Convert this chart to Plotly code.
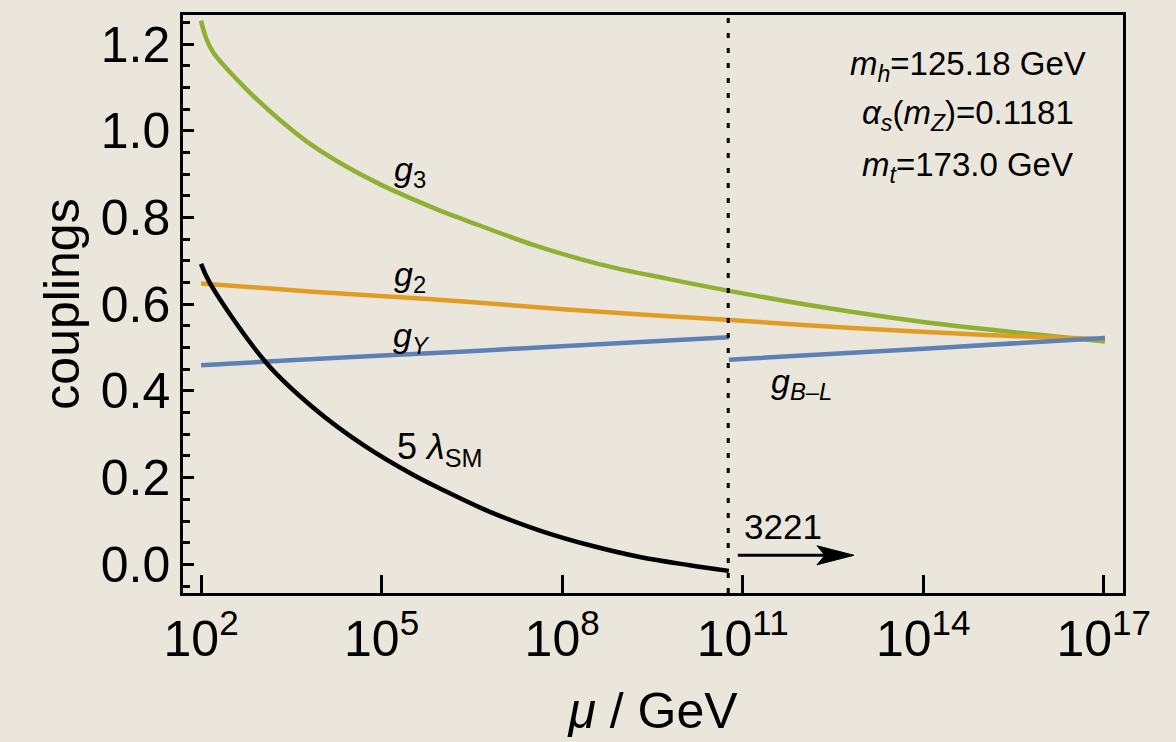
import plotly.graph_objects as go

# ---------------- data (log10(mu/GeV), coupling) ----------------
g3_logmu = [2.0, 2.08, 2.2, 2.76, 3.31, 3.86, 4.42, 4.97, 5.31, 5.97, 6.41, 7.52, 8.63, 9.74, 10.73, 12.28, 13.94, 15.6, 17.02]
g3_val = [1.254, 1.215, 1.181, 1.095, 1.025, 0.965, 0.917, 0.877, 0.855, 0.816, 0.793, 0.737, 0.692, 0.659, 0.632, 0.594, 0.560, 0.534, 0.514]

g2_logmu = [2.0, 3.86, 5.31, 6.3, 8.07, 10.73, 12.83, 15.05, 17.02]
g2_val = [0.648, 0.629, 0.616, 0.607, 0.588, 0.564, 0.545, 0.529, 0.520]

gY_logmu = [2.0, 3.64, 6.3, 7.3, 10.77]
gY_val = [0.459, 0.472, 0.4905, 0.498, 0.524]

gBL_logmu = [10.77, 13.94, 17.02]
gBL_val = [0.472, 0.497, 0.522]

lam_logmu = [2.0, 2.15, 3.09, 3.86, 4.7, 5.53, 5.97, 6.8, 7.63, 8.46, 9.29, 10.12, 10.77]
lam5_val = [0.693, 0.648, 0.464, 0.362, 0.275, 0.206, 0.175, 0.121, 0.078, 0.044, 0.017, -0.002, -0.015]

breaking_scale_log = 10.76
x_tick_exps = [2, 5, 8, 11, 14, 17]
y_tick_vals = [0.0, 0.2, 0.4, 0.6, 0.8, 1.0, 1.2]

# ---------------- styles ----------------
BG = "#EAE6DC"
C_BLUE = "#5E81B5"
C_ORANGE = "#E19C24"
C_GREEN = "#8FB032"
FONT = "Liberation Sans, Arial, sans-serif"

def pw(lst):
    return [10 ** v for v in lst]

fig = go.Figure()

series = [
    (g3_logmu, g3_val, C_GREEN),
    (g2_logmu, g2_val, C_ORANGE),
    (gY_logmu, gY_val, C_BLUE),
    (gBL_logmu, gBL_val, C_BLUE),
    (lam_logmu, lam5_val, "black"),
]
for xs, ys, col in series:
    fig.add_trace(go.Scatter(x=pw(xs), y=ys, mode="lines",
                             line=dict(color=col, width=4.5, shape="spline", smoothing=1.0)))

Y_MIN, Y_MAX = -0.066, 1.267
X_MIN, X_MAX = 1.70, 17.32

# dashed vertical line at the breaking scale
fig.add_shape(type="line", xref="x", yref="paper",
              x0=10 ** breaking_scale_log, x1=10 ** breaking_scale_log, y0=0, y1=1,
              line=dict(color="black", width=3, dash="5px,10px"), layer="above")

# arrow "3221"
arrow_y = 0.021
arrow_tail = 10.92
arrow_head = 12.85
fig.add_shape(type="line", xref="x", yref="y",
              x0=10 ** arrow_tail, x1=10 ** (arrow_head - 0.35), y0=arrow_y, y1=arrow_y,
              line=dict(color="black", width=3))
fig.add_shape(type="path", xref="x", yref="y", xsizemode="pixel", ysizemode="pixel",
              xanchor=10 ** arrow_head, yanchor=arrow_y,
              path="M0,0 L-37,9.5 L-29,0 L-37,-9.5 Z",
              fillcolor="black", line=dict(color="black", width=1))

annots = [
    dict(x=5.47, y=0.906, text="<i>g</i><sub>3</sub>", size=34),
    dict(x=5.47, y=0.663, text="<i>g</i><sub>2</sub>", size=34),
    dict(x=5.50, y=0.523, text="<i>g</i><sub><i>Y</i></sub>", size=34),
    dict(x=5.97, y=0.265, text="5 <i>λ</i><sub>SM</sub>", size=36),
    dict(x=11.97, y=0.417, text="<i>g</i><sub><i>B</i>–<i>L</i></sub>", size=34),
    dict(x=11.67, y=0.088, text="3221", size=35),
]
for a in annots:
    fig.add_annotation(x=a["x"], y=a["y"], xref="x", yref="y", text=a["text"],
                       xanchor="center", yanchor="middle",
                       showarrow=False, font=dict(family=FONT, size=a["size"], color="black"))

info = [
    (0.912, "<i>m</i><sub><i>h</i></sub>=125.18 GeV"),
    (0.827, "<i>α</i><sub><i>s</i></sub>(<i>m</i><sub><i>Z</i></sub>)=0.1181"),
    (0.737, "<i>m</i><sub><i>t</i></sub>=173.0 GeV"),
]
for yy, t in info:
    fig.add_annotation(x=0.835, y=yy, xref="paper", yref="paper", text=t, showarrow=False,
                       xanchor="center", yanchor="middle",
                       font=dict(family=FONT, size=33, color="black"))

fig.update_layout(
    width=1176, height=742,
    margin=dict(l=183, r=53, t=14, b=148),
    paper_bgcolor=BG, plot_bgcolor=BG,
    showlegend=False,
    font=dict(family=FONT, color="black"),
)

fig.update_xaxes(
    type="log", range=[X_MIN, X_MAX],
    tickvals=[10 ** e for e in x_tick_exps],
    ticktext=[f"10<sup>{e}</sup>" for e in x_tick_exps],
    ticks="inside", ticklen=18, tickwidth=2.5, tickcolor="black",
    showline=True, linecolor="black", linewidth=2.5, mirror=True,
    showgrid=False, zeroline=False,
    tickfont=dict(family=FONT, size=50, color="black"),
    title=dict(text="<i>μ</i> / GeV", font=dict(family=FONT, size=50, color="black"), standoff=28),
)
fig.update_yaxes(
    range=[Y_MIN, Y_MAX],
    tickvals=y_tick_vals, tickformat=".1f",
    ticks="inside", ticklen=11, tickwidth=2.5, tickcolor="black",
    minor=dict(dtick=0.05, tick0=0, ticks="inside", ticklen=7, tickwidth=2.5, tickcolor="black"),
    showline=True, linecolor="black", linewidth=2.5, mirror=True,
    showgrid=False, zeroline=False,
    tickfont=dict(family=FONT, size=50, color="black"),
    title=dict(text="couplings", font=dict(family=FONT, size=50, color="black"), standoff=6),
)

fig.write_html("out.html")
